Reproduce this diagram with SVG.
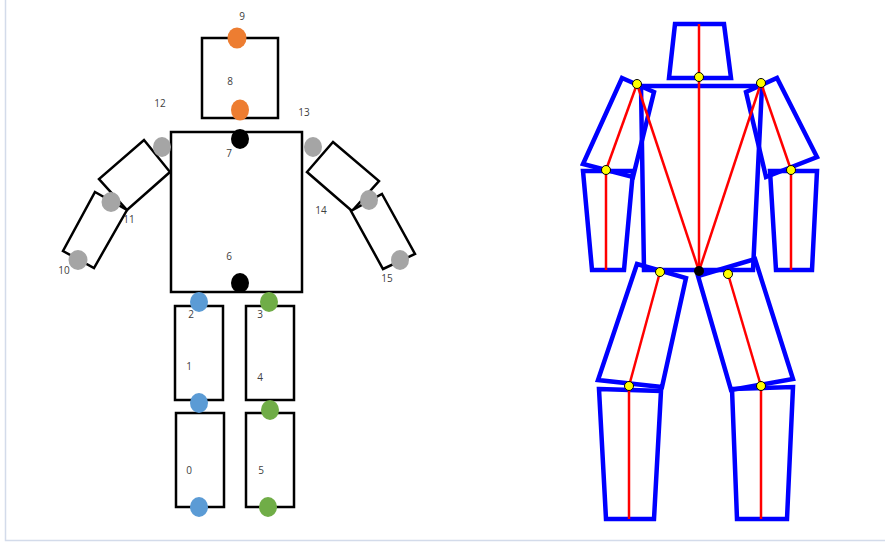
<svg xmlns="http://www.w3.org/2000/svg" width="885" height="544" viewBox="0 0 885 544">
<style>
.part{fill:#fff;stroke:#000;stroke-width:2.5}
.lbl{font-family:"Open Sans","Liberation Sans",sans-serif;font-size:10px;fill:#404040;text-anchor:middle}
.or{fill:#ED7D31}.gr{fill:#A5A5A5}.bl{fill:#5B9BD5}.gn{fill:#70AD47}.bk{fill:#000}
.seg{fill:none;stroke:#0000FF;stroke-width:4.5;stroke-linejoin:miter}
.bone{stroke:#FF0000;stroke-width:2.5;fill:none}
.jt{fill:#FFFF00;stroke:#000;stroke-width:1}
</style>
<rect x="0" y="0" width="885" height="544" fill="#fff"/>
<path d="M5.5 0V540.5H885" fill="none" stroke="#D3DBEA" stroke-width="1.5"/>

<g id="left-figure">
  <g id="head"><rect class="part" x="202" y="38" width="76" height="80"/></g>
  <g id="torso"><rect class="part" x="171" y="132" width="131" height="160"/></g>
  <g id="left-upper-arm"><polygon class="part" points="144,140 170,172 127,210 99,179"/></g>
  <g id="left-lower-arm"><polygon class="part" points="95,192 127,210 94,268 63,251"/></g>
  <g id="right-upper-arm"><polygon class="part" points="333,142 379,181 352,211 307,172"/></g>
  <g id="right-lower-arm"><polygon class="part" points="382,194 415,254 383,269 351,211"/></g>
  <g id="left-thigh"><rect class="part" x="175" y="306" width="48" height="94"/></g>
  <g id="right-thigh"><rect class="part" x="246" y="306" width="48" height="94"/></g>
  <g id="left-shin"><rect class="part" x="176" y="413" width="48" height="94"/></g>
  <g id="right-shin"><rect class="part" x="246" y="413" width="48" height="94"/></g>

  <g id="kp9"><ellipse class="or" cx="237" cy="38" rx="9.5" ry="10.5"/><text class="lbl" x="242" y="20">9</text></g>
  <g id="kp8"><ellipse class="or" cx="240" cy="110" rx="9" ry="10.5"/><text class="lbl" x="230" y="85">8</text></g>
  <g id="kp7"><ellipse class="bk" cx="240" cy="139" rx="9" ry="10"/><text class="lbl" x="229" y="157">7</text></g>
  <g id="kp6"><ellipse class="bk" cx="240" cy="283" rx="9" ry="10"/><text class="lbl" x="229" y="260">6</text></g>
  <g id="kp12"><ellipse class="gr" cx="162" cy="147" rx="9" ry="10"/><text class="lbl" x="160" y="107">12</text></g>
  <g id="kp11"><ellipse class="gr" cx="111" cy="202" rx="9.5" ry="10"/><text class="lbl" x="129" y="223">11</text></g>
  <g id="kp10"><ellipse class="gr" cx="78" cy="260" rx="9.5" ry="10"/><text class="lbl" x="64" y="274">10</text></g>
  <g id="kp13"><ellipse class="gr" cx="313" cy="147" rx="9" ry="10"/><text class="lbl" x="304" y="116">13</text></g>
  <g id="kp14"><ellipse class="gr" cx="369" cy="200" rx="9" ry="10"/><text class="lbl" x="321" y="214">14</text></g>
  <g id="kp15"><ellipse class="gr" cx="400" cy="260" rx="9" ry="10"/><text class="lbl" x="387" y="282">15</text></g>
  <g id="kp2"><ellipse class="bl" cx="199" cy="302" rx="9" ry="10"/><text class="lbl" x="191" y="318">2</text></g>
  <g id="kp1"><ellipse class="bl" cx="199" cy="403" rx="9" ry="10"/><text class="lbl" x="189" y="370">1</text></g>
  <g id="kp0"><ellipse class="bl" cx="199" cy="507" rx="9" ry="10"/><text class="lbl" x="189" y="474">0</text></g>
  <g id="kp3"><ellipse class="gn" cx="269" cy="302" rx="9" ry="10"/><text class="lbl" x="260" y="318">3</text></g>
  <g id="kp4"><ellipse class="gn" cx="270" cy="410" rx="9" ry="10"/><text class="lbl" x="260" y="381">4</text></g>
  <g id="kp5"><ellipse class="gn" cx="268" cy="507" rx="9" ry="10"/><text class="lbl" x="261" y="474">5</text></g>
</g>

<g id="right-figure">
  <g id="r-head"><polygon class="seg" points="675,24 724,24 731,78 669,78"/></g>
  <g id="r-torso"><polyline class="seg" points="636,86 763,86"/><polyline class="seg" points="641,86 644,270 753,270 762,86"/></g>
  <g id="r-left-upper-arm"><polygon class="seg" points="622,78 654,92 633,177 583,164"/></g>
  <g id="r-right-upper-arm"><polygon class="seg" points="777,78 817,157 766,177 746,92"/></g>
  <g id="r-left-forearm"><polygon class="seg" points="583,171 633,171 624,270 592,270"/></g>
  <g id="r-right-forearm"><polygon class="seg" points="770,171 817,171 812,270 776,270"/></g>
  <g id="r-left-thigh"><polygon class="seg" points="637,264 686,278 662,387 598,380"/></g>
  <g id="r-right-thigh"><polygon class="seg" points="698,276 755,259 793,379 731,390"/></g>
  <g id="r-left-shin"><polygon class="seg" points="599,389 661,391 654,519 606,519"/></g>
  <g id="r-right-shin"><polygon class="seg" points="732,389 793,387 787,519 737,519"/></g>
</g>

<g id="connectors">
  <line class="bone" x1="699" y1="24" x2="699" y2="271"/>
  <line class="bone" x1="637" y1="84" x2="699" y2="271"/>
  <line class="bone" x1="761" y1="83" x2="699" y2="271"/>
  <line class="bone" x1="637" y1="84" x2="606" y2="170"/>
  <line class="bone" x1="761" y1="83" x2="791" y2="170"/>
  <line class="bone" x1="606" y1="170" x2="606" y2="270"/>
  <line class="bone" x1="791" y1="170" x2="791" y2="270"/>
  <line class="bone" x1="660" y1="272" x2="629" y2="386"/>
  <line class="bone" x1="728" y1="274" x2="761" y2="386"/>
  <line class="bone" x1="629" y1="386" x2="629" y2="519"/>
  <line class="bone" x1="761" y1="386" x2="761" y2="519"/>
</g>

<g id="joints">
  <circle class="jt" cx="699" cy="77" r="4.5"/>
  <circle class="jt" cx="637" cy="84" r="4.5"/>
  <circle class="jt" cx="761" cy="83" r="4.5"/>
  <circle class="jt" cx="606" cy="170" r="4.5"/>
  <circle class="jt" cx="791" cy="170" r="4.5"/>
  <circle class="jt" cx="660" cy="272" r="4.5"/>
  <circle class="jt" cx="728" cy="274" r="4.5"/>
  <circle class="jt" cx="629" cy="386" r="4.5"/>
  <circle class="jt" cx="761" cy="386" r="4.5"/>
  <circle cx="699" cy="271" r="5" fill="#000"/>
</g>
</svg>
